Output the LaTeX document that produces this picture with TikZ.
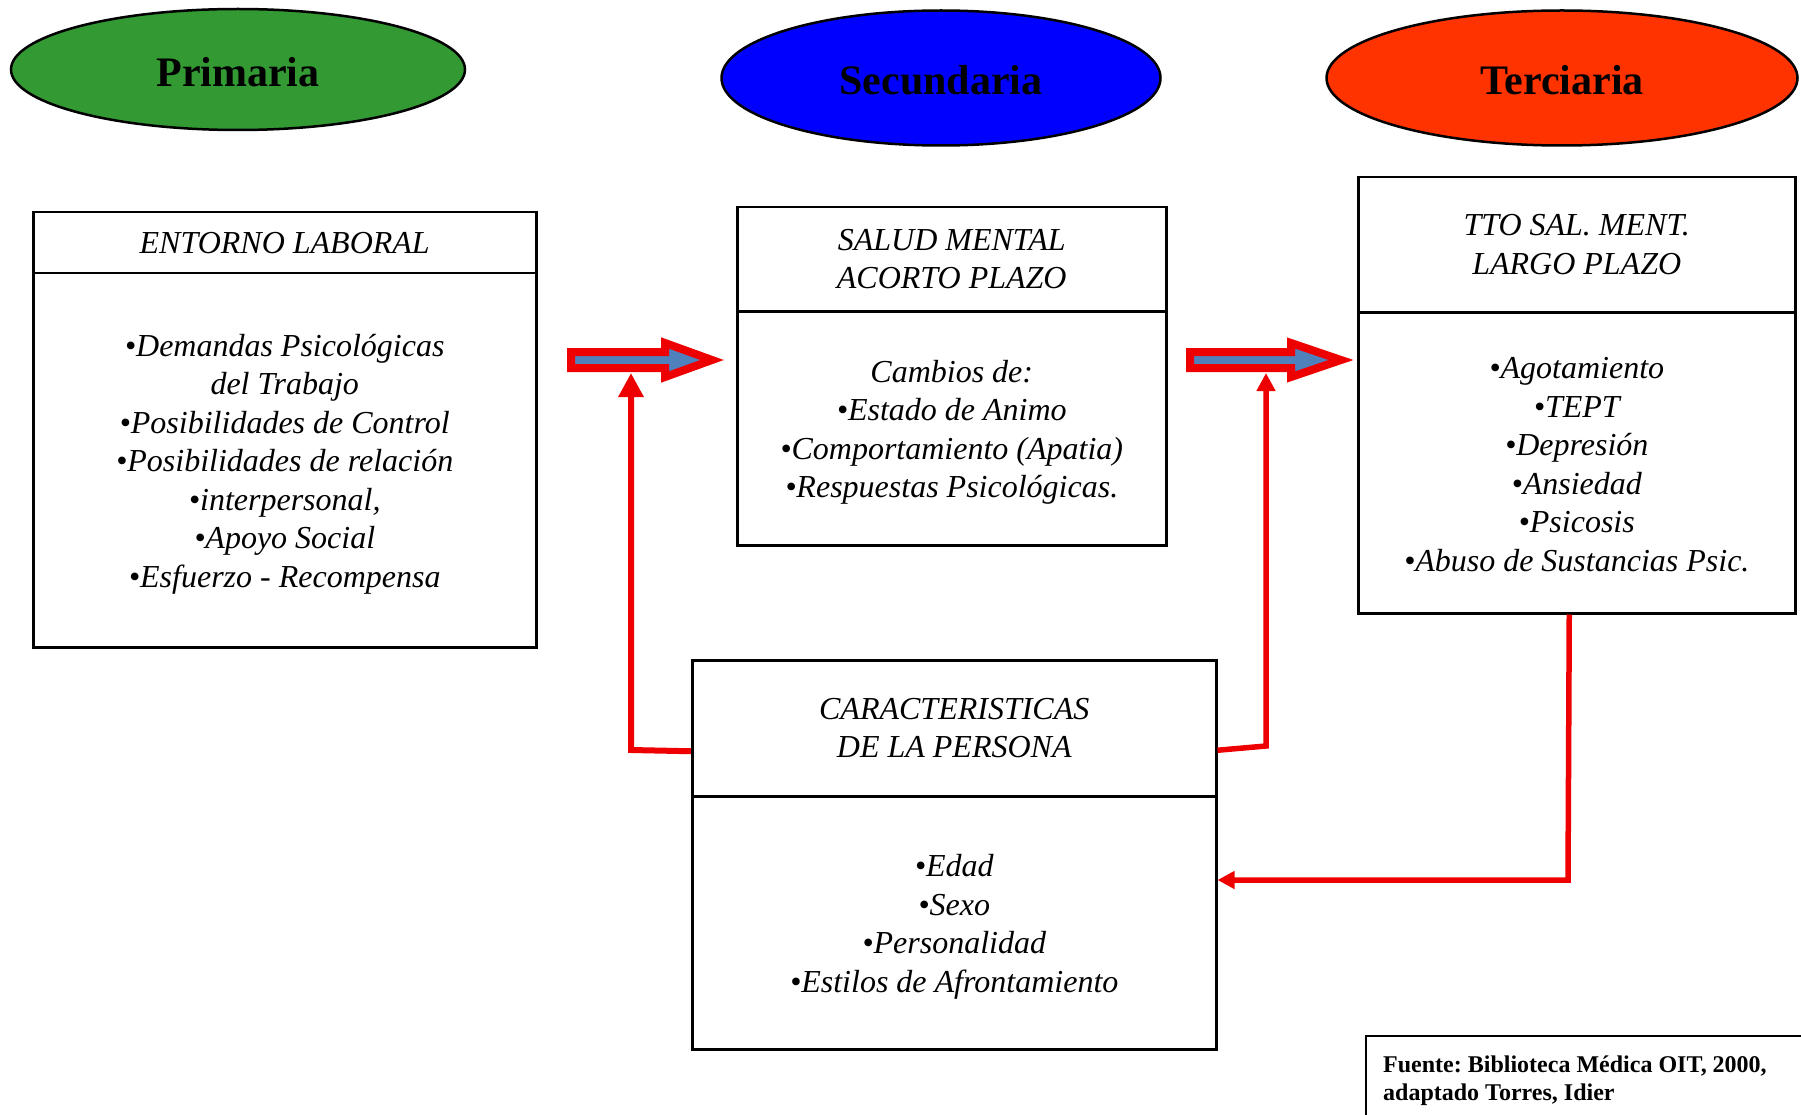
\documentclass[tikz,border=0pt]{standalone}
\usepackage{fontspec}
\setmainfont{Liberation Serif}
\usetikzlibrary{shapes.geometric,arrows.meta}
\definecolor{cgreen}{HTML}{339933}
\definecolor{cblue}{HTML}{0000FF}
\definecolor{corange}{HTML}{FF3300}
\definecolor{cred}{HTML}{EE0000}
\definecolor{cfill}{HTML}{4F81BD}
\frenchspacing
\begin{document}
\begin{tikzpicture}[x=1pt,y=-1pt,
  oval/.style={ellipse,draw=black,line width=2.5pt,inner sep=0pt},
  ovaltext/.style={font=\fontsize{42}{48}\selectfont\bfseries,inner sep=0pt},
  boxpart/.style={draw=black,line width=2.5pt,inner sep=0pt,anchor=north west,align=center,
     font=\fontsize{32}{38.5}\selectfont\itshape},
  bodytext/.style={inner sep=0pt,align=center,font=\fontsize{32}{38.5}\selectfont\itshape},
  redline/.style={draw=cred,line width=6pt,line join=miter},
  bigarrow/.style={draw=cred,fill=cfill,line width=8pt,line join=miter,miter limit=10},
  tip/.style={-{Triangle[length=#1,width=#1]}},
]
\useasboundingbox (0,0) rectangle (1801,1115);
\fill[white] (0,0) rectangle (1801,1115);

% ellipses
\node[oval,fill=cgreen,minimum width=454pt,minimum height=121pt] (prim) at (238,69.5) {};
\node[ovaltext] (primt) at ([yshift=-2.5pt]prim.center) {Primaria};
\node[oval,fill=cblue,minimum width=439pt,minimum height=135pt] (sec) at (941,78) {};
\node[ovaltext] (sect) at ([yshift=-2.5pt]sec.center) {Secundaria};
\node[oval,fill=corange,minimum width=471pt,minimum height=135pt] (ter) at (1562,78) {};
\node[ovaltext] (tert) at ([yshift=-2.5pt]ter.center) {Terciaria};

% box 1
\node[boxpart,minimum width=503pt,minimum height=61pt] (b1h) at (32,211) {ENTORNO LABORAL};
\node[boxpart,minimum width=503pt,minimum height=374pt] (b1b) at (32,272) {};
\node[bodytext] (b1t) at ([yshift=-4pt]b1b.center)
  {•Demandas Psicológicas\\del Trabajo\\•Posibilidades de Control\\•Posibilidades de relación\\•interpersonal,\\•Apoyo Social\\•Esfuerzo - Recompensa};

% box 2
\node[boxpart,minimum width=429pt,minimum height=104pt] (b2h) at (736,206) {SALUD MENTAL\\ACORTO PLAZO};
\node[boxpart,minimum width=429pt,minimum height=234pt] (b2b) at (736,310) {};
\node[bodytext] (b2t) at ([yshift=-4pt]b2b.center)
  {Cambios de:\\•Estado de Animo\\•Comportamiento (Apatia)\\•Respuestas Psicológicas.};

% box 3
\node[boxpart,minimum width=437pt,minimum height=135pt] (b3h) at (1357,176) {TTO SAL. MENT.\\LARGO PLAZO};
\node[boxpart,minimum width=437pt,minimum height=301pt] (b3b) at (1357,311) {};
\node[bodytext] (b3t) at ([yshift=-2pt]b3b.center)
  {•Agotamiento\\•TEPT\\•Depresión\\•Ansiedad\\•Psicosis\\•Abuso de Sustancias Psic.};

% box 4
\node[boxpart,minimum width=524pt,minimum height=136pt] (b4h) at (691,659) {CARACTERISTICAS\\DE LA PERSONA};
\node[boxpart,minimum width=524pt,minimum height=253pt] (b4b) at (691,795) {};
\node[bodytext] (b4t) at ([yshift=-4pt]b4b.center)
  {•Edad\\•Sexo\\•Personalidad\\•Estilos de Afrontamiento};

% block arrows
\draw[bigarrow] (571,352) -- (665,352) -- (665,343) -- (712,360) -- (665,377) -- (665,368) -- (571,368) -- cycle;
\draw[bigarrow] (1190,352) -- (1291,352) -- (1291,343) -- (1341,360) -- (1291,377) -- (1291,368) -- (1190,368) -- cycle;
\coordinate (a1) at (631,373);
\coordinate (a2) at (1266,373);

% red connectors
\draw[redline,tip=24pt] ([yshift=-23pt]b4h.west) -- (631,750) -- (a1);
\draw[redline,line width=5.5pt,tip=18pt] ([yshift=-22pt]b4h.east) -- (1266,746) -- (a2);
\draw[redline,line width=5.5pt,tip=17pt] ([xshift=-7.5pt]b3b.south) -- (1568,880) -- (b4b.east |- 0,880);

% footnote
\draw[line width=2.5pt] (1366,1036) rectangle (1830,1140);
\node[anchor=base west,align=left,inner sep=0pt,font=\fontsize{24}{28.5}\selectfont\bfseries] (fn) at (1383,1100.5)
  {Fuente: Biblioteca Médica OIT, 2000,\\adaptado Torres, Idier};
\end{tikzpicture}
\end{document}
